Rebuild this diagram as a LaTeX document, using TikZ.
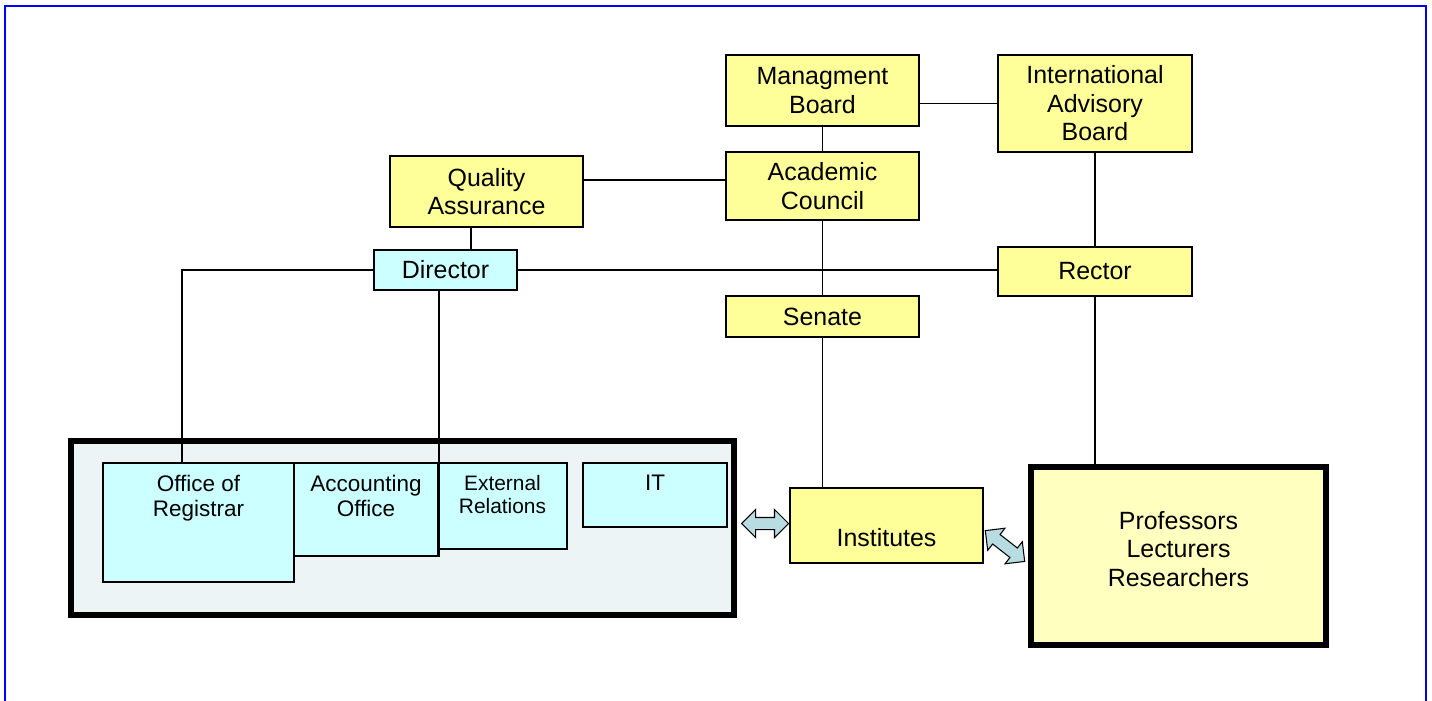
\documentclass[tikz,border=0pt]{standalone}
\usepackage{fontspec}
\setmainfont{Liberation Sans}
\usetikzlibrary{shapes.arrows}

\definecolor{boardyellow}{HTML}{FFFF99}
\definecolor{staffyellow}{HTML}{FFFFC0}
\definecolor{officecyan}{HTML}{CCFFFF}
\definecolor{unitgray}{HTML}{EDF4F5}
\definecolor{linkblue}{HTML}{B7DCE2}

\tikzset{
  board/.style={draw, fill=boardyellow, line width=1.1pt, inner sep=0pt, align=center,
    font=\fontsize{14.2pt}{16.2pt}\selectfont},
  office/.style={draw, fill=officecyan, line width=1.1pt, inner sep=0pt},
  officetxt/.style={anchor=north, inner sep=0pt, yshift=-0.25cm, align=center,
    font=\fontsize{12.8pt}{14.5pt}\selectfont},
  heavybox/.style={draw, line width=0.12cm, inner sep=0pt},
  link/.style={line width=1pt},
  twoway/.style={double arrow, draw, fill=linkblue, line width=0.6pt, inner xsep=0pt,
    inner ysep=0.11cm, double arrow head extend=0.16cm, minimum height=0.94cm}
}

\begin{document}
\begin{tikzpicture}[x=0.02cm, y=-0.02cm]
\useasboundingbox (0,0) rectangle (1432,700);
\draw [blue, line width=0.04cm] (5,6) rectangle (1426,704);

% governing bodies
\node [board, minimum width=3.86cm, minimum height=1.42cm] (mgmt) at (822.5,90.5) {Managment\\Board};
\node [board, minimum width=3.88cm, minimum height=1.94cm] (iab) at (1095,103.5) {International\\Advisory\\Board};
\node [board, minimum width=3.86cm, minimum height=1.36cm] (acad) at (822.5,186) {Academic\\Council};
\node [board, minimum width=3.86cm, minimum height=1.42cm] (qa) at (486.5,191.5) {Quality\\Assurance};
\node [board, fill=officecyan, minimum width=2.86cm, minimum height=0.80cm] (dir) at (445.5,270) {Director};
\node [board, minimum width=3.88cm, minimum height=0.98cm] (rector) at (1095,271.5) {Rector};
\node [board, minimum width=3.86cm, minimum height=0.82cm] (senate) at (822.5,316.5) {Senate};
\node [board, minimum width=3.86cm, minimum height=1.50cm,
  label={[font=\fontsize{14.2pt}{16.2pt}\selectfont, yshift=-0.25cm]center:Institutes}] (inst) at (886.5,525.5) {};

% administration
\node [heavybox, fill=unitgray, minimum width=13.26cm, minimum height=3.48cm] (admin) at (402.5,528) {};
\node [office, minimum width=3.82cm, minimum height=2.38cm,
  label={[officetxt]north:Office of\\Registrar}] (reg) at (198.5,522.5) {};
\node [office, minimum width=2.88cm, minimum height=1.86cm,
  label={[officetxt]north:Accounting\\Office}] (acc) at (366,509.5) {};
\node [office, minimum width=2.58cm, minimum height=1.72cm,
  label={[officetxt, font=\fontsize{11.9pt}{13.1pt}\selectfont]north:External\\Relations}] (ext) at (502.5,506) {};
\node [office, minimum width=2.88cm, minimum height=1.28cm,
  label={[officetxt]north:IT}] (it) at (655,495) {};

% academic staff
\node [heavybox, fill=staffyellow, minimum width=5.90cm, minimum height=3.56cm,
  label={[align=center, yshift=0.14cm, font=\fontsize{14.2pt}{16.3pt}\selectfont]center:Professors\\Lecturers\\Researchers}] (prof) at (1178.5,556) {};

% links
\coordinate (qalink) at ([yshift=0.23cm]qa.east);
\coordinate (qafoot) at ([xshift=-0.31cm]qa.south);
\coordinate (regtop) at ([xshift=-0.33cm]reg.north);
\coordinate (dirfoot) at (acc.south east);
\draw [link] (mgmt.south) -- (acad.north);
\draw [link] (iab.west) -- (iab.west -| mgmt.east);
\draw [link] (qalink) -- (qalink -| acad.west);
\draw [link] (qafoot) -- (qafoot |- dir.north);
\draw [link] (acad.south) -- (senate.north);
\draw [link] (senate.south) -- (senate.south |- inst.north);
\draw [link] (iab.south) -- (rector.north);
\draw [link] (rector.south) -- (rector.south |- prof.north);
\draw [link] (dir.east) -- (dir.east -| rector.west);
\draw [link] (dir.west) -| (regtop);
\draw [link] (dirfoot) -- (dirfoot |- dir.south);

\node [twoway] (adminlink) at (765,523.5) {};
\node [twoway, rotate=-38, minimum height=1.0cm] (stafflink) at (1005,546) {};
\end{tikzpicture}
\end{document}
